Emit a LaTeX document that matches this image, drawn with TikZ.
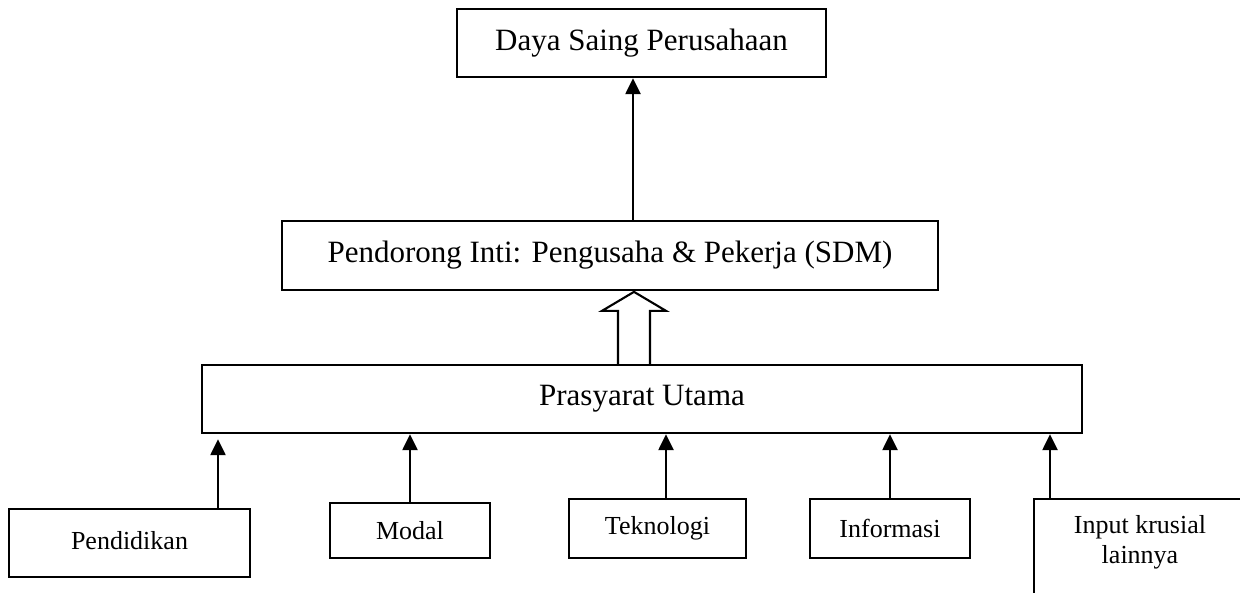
\documentclass[tikz,border=0pt]{standalone}
\usepackage{fontspec}
\setmainfont{Liberation Serif}
\usetikzlibrary{arrows.meta,calc}
\begin{document}
\begin{tikzpicture}[x=1pt,y=-1pt,
  bigbox/.style={draw,line width=2.3pt,inner sep=0pt,font=\fontsize{31}{37}\selectfont},
  smallbox/.style={draw,line width=2.3pt,inner sep=0pt,font=\fontsize{26}{30}\selectfont},
  arr/.style={line width=2.3pt,-{Triangle[width=15pt,length=16pt]}},
  blockarrow/.style={line width=2.1pt,fill=white,line join=miter}]
\useasboundingbox (0,0) rectangle (1240,592);
\clip (0,0) rectangle (1240,592);
% boxes
\node[bigbox,minimum width=369pt,minimum height=68pt] (daya) at (641.5,43) {Daya Saing Perusahaan};
\node[bigbox,minimum width=656pt,minimum height=69pt] (inti) at (610,255.5) {Pendorong Inti: Pengusaha \& Pekerja (SDM)};
\node[bigbox,minimum width=880pt,minimum height=68pt] (pras) at (642,399) {Prasyarat Utama};
\node[smallbox,minimum width=241pt,minimum height=68pt] (pend) at (129.5,543) {\raisebox{5pt}{Pendidikan}};
\node[smallbox,minimum width=160pt,minimum height=55pt] (modal) at (410,530.5) {Modal};
\node[smallbox,minimum width=177pt,minimum height=59pt] (tek) at (657.5,528.5) {Teknologi};
\node[smallbox,minimum width=160pt,minimum height=59pt] (info) at (890,528.5) {Informasi};
\node[align=center,inner sep=0pt,font=\fontsize{26}{30}\selectfont] (inp) at (1140,542) {Input krusial\\lainnya};
\coordinate (inpcorner) at (1034,499);
\coordinate (inpbottom) at (1034,620);
\coordinate (inpright) at (1260,499);
\draw[line width=2.3pt] (inpbottom) -- (inpcorner) -- (inpright);
% x positions of connectors
\coordinate (xtop) at (633,0);
\coordinate (xblk) at (634,0);
\coordinate (xa) at (218,0);
\coordinate (xb) at (410,0);
\coordinate (xc) at (666,0);
\coordinate (xd) at (890,0);
\coordinate (xe) at (1050,0);
% arrows
\draw[arr] (inti.north -| xtop) -- (daya.south -| xtop);
\draw[arr,shorten >=5pt] (pend.north -| xa) -- (pras.south -| xa);
\draw[arr] (modal.north -| xb) -- (pras.south -| xb);
\draw[arr] (tek.north -| xc) -- (pras.south -| xc);
\draw[arr] (info.north -| xd) -- (pras.south -| xd);
\draw[arr] (inpcorner -| xe) -- (pras.south -| xe);
% block arrow
\coordinate (ba) at (pras.north -| xblk);
\draw[blockarrow] ($(ba)+(-16,0)$) -- ($(ba)+(-16,-53)$) -- ($(ba)+(-32,-53)$) -- ($(ba)+(0,-72)$) -- ($(ba)+(32,-53)$) -- ($(ba)+(16,-53)$) -- ($(ba)+(16,0)$);
\end{tikzpicture}
\end{document}
